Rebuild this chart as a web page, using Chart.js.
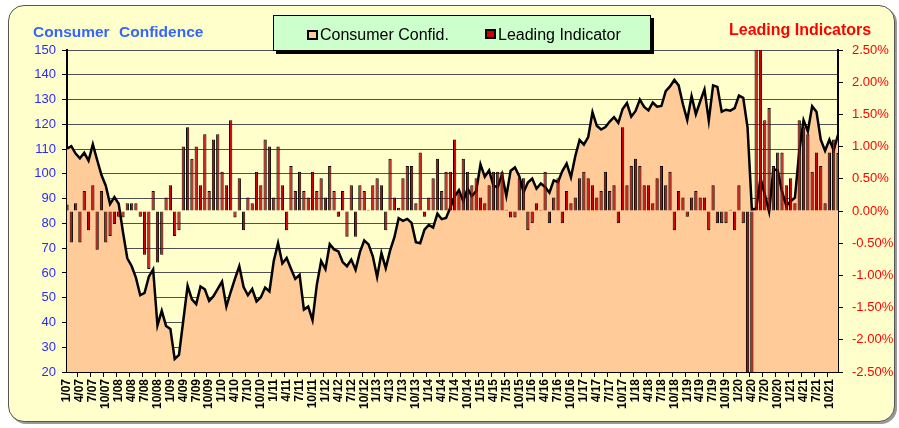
<!DOCTYPE html>
<html>
<head>
<meta charset="utf-8">
<script src="https://cdn.jsdelivr.net/npm/chart.js@4.4.1/dist/chart.umd.min.js"></script>
<style>
  body { margin: 0; background: #fff; }
  #wrap { position: relative; width: 899px; height: 428px; }
  #frame {
    position: absolute; left: 8px; top: 5px; width: 885px; height: 415px;
    border: 1.5px solid #555; border-radius: 16px; background: #FFFFCC;
    box-shadow: 2px 2px 0 #999;
  }
  #grafico { position: absolute; left: 0; top: 0; }
</style>
</head>
<body>
<div id="wrap">
  <div id="frame"></div>
  <canvas id="grafico" width="899" height="428"></canvas>
</div>
<script>
// consumer confidence, one row per year (2007 - 2021)
var confianza = [
    110.2, 111.2, 108.2, 106.3, 108.5, 105.3, 111.9, 105.6, 99.5, 95.2, 87.8, 90.6,
    87.9, 76.4, 65.9, 62.8, 58.1, 51.0, 51.9, 58.5, 61.4, 38.8, 44.7, 38.6,
    37.4, 25.3, 26.9, 40.8, 54.8, 49.3, 47.4, 54.5, 53.4, 48.7, 50.6, 53.6,
    56.5, 46.4, 52.3, 57.7, 62.7, 54.3, 51.0, 53.5, 48.5, 50.2, 54.1, 52.5,
    64.8, 72.0, 63.8, 66.0, 61.7, 57.6, 59.2, 45.2, 46.4, 40.9, 55.2, 64.8,
    61.5, 71.6, 69.5, 68.7, 64.4, 62.7, 65.4, 61.3, 68.4, 73.1, 71.5, 66.7,
    58.4, 68.0, 61.9, 69.0, 74.3, 82.1, 81.0, 81.8, 80.2, 72.4, 72.0, 77.5,
    79.4, 78.3, 83.9, 81.7, 82.2, 86.4, 90.9, 93.4, 89.0, 94.1, 91.0, 93.1,
    103.8, 98.8, 101.4, 95.2, 94.6, 99.8, 91.0, 101.3, 102.6, 99.1, 92.6, 96.5,
    98.1, 94.0, 96.1, 94.7, 92.4, 97.4, 96.7, 101.1, 104.1, 98.6, 107.1, 113.7,
    111.8, 114.8, 124.9, 119.4, 117.9, 118.9, 121.1, 122.9, 120.6, 126.2, 128.6, 123.1,
    125.4, 130.0, 127.0, 125.6, 128.8, 127.1, 127.4, 133.4, 135.3, 137.9, 135.7, 128.1,
    121.7, 131.4, 124.1, 129.2, 134.1, 121.5, 135.7, 135.1, 125.1, 125.9, 125.5, 126.5,
    131.6, 130.7, 118.8, 85.7, 85.9, 98.3, 91.7, 84.8, 101.8, 101.4, 92.9, 87.1,
    88.9, 90.4, 109.0, 121.7, 117.2, 127.3, 125.1, 113.8, 109.3, 113.8, 109.5, 115.8
];

// leading indicator, monthly % change
var indicador = [
    0.10, -0.49, 0.12, -0.49, 0.31, -0.30, 0.40, -0.60, 0.31, -0.49, -0.39, -0.20,
    -0.09, -0.10, 0.12, 0.12, 0.12, -0.09, -0.68, -0.90, 0.31, -0.80, -0.68, 0.21,
    0.40, -0.39, -0.30, 1.00, 1.30, 0.81, 1.00, 0.40, 1.19, 0.31, 1.11, 1.19,
    0.61, 0.40, 1.41, -0.10, 0.51, -0.30, 0.21, 0.12, 0.61, 0.40, 1.11, 1.00,
    0.21, 1.00, 0.40, -0.30, 0.70, 0.31, 0.61, 0.31, 0.21, 0.61, 0.31, 0.51,
    0.21, 0.70, 0.31, -0.09, 0.31, -0.40, 0.40, -0.40, 0.40, 0.31, 0.02, 0.40,
    0.51, 0.40, -0.30, 0.81, 0.21, 0.05, 0.51, 0.70, 0.70, 0.12, 0.91, -0.09,
    0.21, 0.51, 0.81, 0.31, 0.61, 0.61, 1.11, 0.30, 0.81, 0.61, 0.40, 0.51,
    0.21, 0.12, 0.40, 0.61, 0.61, 0.61, 0.02, -0.10, -0.10, 0.51, 0.51, -0.30,
    -0.19, 0.12, 0.02, 0.61, -0.19, 0.21, 0.51, -0.19, 0.31, 0.12, 0.21, 0.51,
    0.61, 0.51, 0.40, 0.21, 0.31, 0.61, 0.31, 0.40, -0.19, 1.30, 0.40, 0.70,
    0.81, 0.70, 0.40, 0.40, 0.12, 0.51, 0.70, 0.40, 0.61, -0.30, 0.31, 0.21,
    -0.09, 0.21, 0.31, 0.21, 0.21, -0.30, 0.40, -0.19, -0.19, -0.19, 0.02, -0.30,
    0.40, -0.19, -6.70, -4.40, 3.00, 2.80, 1.41, 1.60, 0.70, 0.91, 0.91, 0.40,
    0.51, 0.12, 1.41, 1.30, 1.19, 0.61, 0.91, 0.70, 0.12, 0.91, 1.11, 0.90
];

var anios = ["07", "08", "09", "10", "11", "12", "13", "14", "15", "16", "17", "18", "19", "20", "21"];
var meses = [];
anios.forEach(function (a) {
    for (var m = 1; m <= 12; m++) meses.push(m + "/" + a);
});

var fuente = '"Liberation Sans", Arial, sans-serif';

//! textos y leyenda
var decorado = {
    id: "decorado",
    afterDraw: function (chart) {
        var c = chart.ctx;
        c.save();
        c.textBaseline = "alphabetic";
        c.textAlign = "left";

        c.font = "bold 15.5px " + fuente;
        c.fillStyle = "#3366FF";
        c.fillText("Consumer", 33, 37);
        c.fillText("Confidence", 119, 37);

        c.font = "bold 16px " + fuente;
        c.fillStyle = "#FF0000";
        c.fillText("Leading Indicators", 729, 35);

        // caja de la leyenda
        c.fillStyle = "#000";
        c.fillRect(276, 18, 378, 36);
        c.fillStyle = "#CCFFCC";
        c.fillRect(273, 15, 378, 36);
        c.strokeStyle = "#000";
        c.lineWidth = 1;
        c.strokeRect(273.5, 15.5, 377, 35);

        c.lineWidth = 2;
        c.fillStyle = "#FFCC99";
        c.fillRect(308, 31, 9, 8);
        c.strokeRect(308, 31, 9, 8);
        c.fillStyle = "#CC0000";
        c.fillRect(486, 30, 9, 8);
        c.strokeRect(486, 30, 9, 8);

        c.font = "16px " + fuente;
        c.fillStyle = "#000";
        c.fillText("Consumer Confid.", 320, 40);
        c.fillText("Leading Indicator", 498, 40);
        c.restore();
    }
};

document.addEventListener("DOMContentLoaded", function () {
    var ctx = document.getElementById("grafico").getContext("2d");
    var grafico = new Chart(ctx, {
        data: {
            labels: meses,
            datasets: [
                {
                    type: "bar",
                    label: "Leading Indicator",
                    data: indicador,
                    yAxisID: "y2",
                    backgroundColor: "#CC0000",
                    borderColor: "#000",
                    borderWidth: 1,
                    barPercentage: 0.76,
                    categoryPercentage: 1,
                    clip: 0,
                    order: 1,
                },
                {
                    type: "line",
                    label: "Consumer Confid.",
                    data: confianza,
                    yAxisID: "y",
                    fill: "start",
                    backgroundColor: "#FFCC99",
                    borderColor: "#000",
                    borderWidth: 2.5,
                    pointRadius: 0,
                    tension: 0,
                    clip: 0,
                    order: 2,
                },
            ],
        },
        options: {
            responsive: false,
            animation: false,
            devicePixelRatio: 1,
            layout: { padding: { top: 50, left: 0, right: 0, bottom: 0 } },
            plugins: {
                legend: { display: false },
                tooltip: { enabled: false },
            },
            scales: {
                x: {
                    type: "category",
                    offset: false,
                    afterFit: function (s) { s.height = 56; },
                    grid: {
                        drawOnChartArea: false,
                        tickLength: 5,
                        color: function (c) { return c.index % 3 === 0 ? "#000" : "rgba(0,0,0,0)"; },
                    },
                    border: { color: "#000", width: 2 },
                    ticks: {
                        autoSkip: false,
                        minRotation: 90,
                        maxRotation: 90,
                        padding: 2,
                        color: "#000",
                        font: { family: fuente, size: 12, weight: "bold" },
                        callback: function (v, i) { return i % 3 === 0 ? meses[i] : ""; },
                    },
                },
                y: {
                    position: "left",
                    min: 20,
                    max: 150,
                    afterFit: function (s) { s.width = 67; },
                    grid: { color: "#505050", lineWidth: 1, tickLength: 5, tickColor: "#000" },
                    border: { color: "#000", width: 2 },
                    ticks: {
                        stepSize: 10,
                        padding: 6,
                        color: "#2B2BFF",
                        font: { family: fuente, size: 13 },
                    },
                },
                y2: {
                    position: "right",
                    min: -2.5,
                    max: 2.5,
                    afterFit: function (s) { s.width = 61; },
                    grid: { drawOnChartArea: false, tickLength: 5, color: "#000" },
                    border: { color: "#000", width: 2 },
                    ticks: {
                        stepSize: 0.25,
                        padding: 9,
                        color: "#FF0000",
                        font: { family: fuente, size: 13 },
                        callback: function (v) { return v.toFixed(2) + "%"; },
                    },
                },
            },
        },
        plugins: [decorado],
    });
});
</script>
</body>
</html>
